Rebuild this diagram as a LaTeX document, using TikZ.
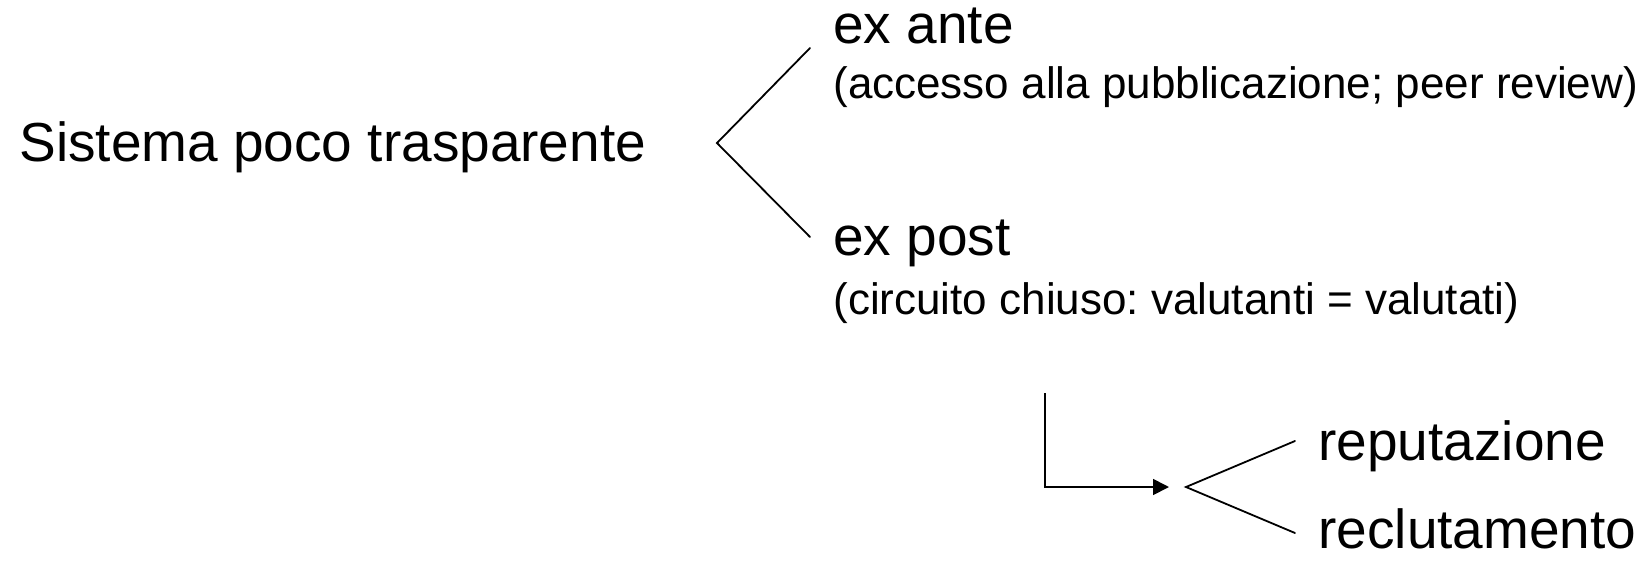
\documentclass[tikz,border=0pt]{standalone}
\usepackage{fontspec}
\setmainfont{Liberation Sans}
\frenchspacing
\usetikzlibrary{
  arrows.meta,
  positioning
}

\tikzset{
  big/.style={inner sep=0, anchor=base west, font=\fontsize{27.5}{32}\selectfont},
  note/.style={inner sep=0, anchor=base west, font=\fontsize{22}{26}\selectfont},
  branch/.style={line width=0.9pt, line cap=round}
}

\begin{document}
\begin{tikzpicture}[x=0.5pt, y=-0.5pt]
            \useasboundingbox (0, 0) rectangle (1646, 563);
            \node[big] (sistema) at (19, 161) {Sistema poco trasparente};
            \node[big] (ante) at (833, 43) {ex ante};
            \node[note] (anteinfo) at (833, 98) {(accesso alla pubblicazione; peer review)};
            \node[big] (post) at (833, 255) {ex post};
            \node[note] (postinfo) at (833, 314) {(circuito chiuso: valutanti = valutati)};
            \node[big] (reput) at (1318, 460) {reputazione};
            \node[big] (reclut) at (1318, 548) {reclutamento};
            % first fork
            \coordinate (fork) at (717, 143);
            \coordinate (forkup) at (810, 48);
            \coordinate (forkdown) at (810, 237);
            \draw[branch] (forkup) -- (fork) -- (forkdown);
            % elbow arrow and second fork
            \coordinate (drop) at (1045, 393);
            \coordinate (split) at (1186, 487);
            \coordinate (splitup) at (1295, 441);
            \coordinate (splitdown) at (1295, 533);
            \draw[branch, line cap=butt, -{Triangle[length=8pt, width=8pt]}, shorten >=8.5pt] (drop) |- (split);
            \draw[branch] (splitup) -- (split) -- (splitdown);
          \end{tikzpicture}
\end{document}
